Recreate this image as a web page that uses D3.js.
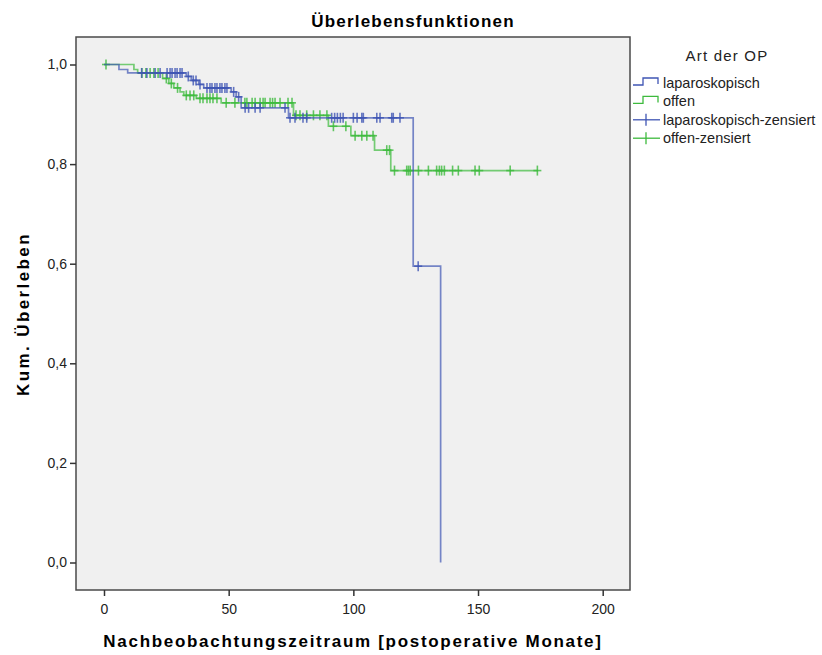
<!DOCTYPE html>
<html>
<head>
<meta charset="utf-8">
<script src="https://cdn.jsdelivr.net/npm/d3@7"></script>
<style>
  body { margin: 0; background: #fff; }
  text { font-family: "Liberation Sans", Arial, sans-serif; }
</style>
</head>
<body>
<div id="chart"></div>
<script>
// Kaplan-Meier step data (months, cumulative survival)
var lapTimes = [0, 6, 9.5, 33, 35, 38, 40, 51, 53, 55, 74, 124, 135];
var lapSurv  = [1, 0.99, 0.983, 0.976, 0.968, 0.96, 0.953, 0.945, 0.935, 0.913, 0.893, 0.595, 0];
var lapCensored = [15.1, 17.2, 20.5, 22.5, 25.3, 26.5, 27.3, 28.5, 29.3, 30.5, 31.3, 33.8, 35.8, 36.9,
  38.5, 41.3, 42.5, 43.3, 44.5, 45.3, 46.5, 47.3, 48.5, 49.3, 52, 54, 56.6, 58, 60.6, 62.6, 72.6,
  74.6, 76.6, 79.8, 81.3, 91.3, 92.5, 93.6, 94.8, 95.9, 100, 101.5, 103.4, 104, 109.4, 110.7,
  115.4, 116, 118.7, 126];

var offTimes = [0, 12, 13.5, 23.5, 26, 28, 30.5, 32, 37, 47, 76, 90, 99, 108.5, 115, 174];
var offSurv  = [1, 0.99, 0.983, 0.972, 0.962, 0.953, 0.945, 0.938, 0.932, 0.923, 0.898, 0.876, 0.857, 0.828, 0.787, 0.787];
var offCensored = [0.8, 15.2, 16.8, 18.5, 20, 21.7, 25, 27, 29.5, 33, 34.5, 36, 38.5, 39.7, 41.3, 42.5,
  43.7, 45.3, 49, 52.5, 56.5, 57.3, 59.4, 60.6, 62.6, 63.8, 64.6, 66.6, 67.6, 68.6, 70.6, 73.8, 75.4,
  77, 78.6, 81.3, 84, 86.6, 89.4, 92, 97, 100.7, 103.4, 105.4, 107.9, 113.4, 114.5, 116.5, 121.4,
  122.1, 122.8, 126.1, 130.1, 133.4, 134.5, 135.4, 136.5, 139.8, 142.1, 148.8, 150.5, 162.9, 173.8];

var xTicks = [0, 50, 100, 150, 200];
var yTicks = [0, 0.2, 0.4, 0.6, 0.8, 1.0];
var legendLabels = ["laparoskopisch", "offen", "laparoskopisch-zensiert", "offen-zensiert"];

var blue = "#3f55b4", green = "#3dba3d";

var width = 822, height = 655;
var frame = { left: 76, right: 630, top: 37, bottom: 590 };

var svg = d3.select("#chart").append("svg")
  .attr("width", width).attr("height", height);

var x = d3.scaleLinear().domain([0, 200]).range([104, 602.7]);
var y = d3.scaleLinear().domain([0, 1]).range([562.5, 64.5]);

// plot background + frame
svg.append("rect")
  .attr("x", frame.left).attr("y", frame.top)
  .attr("width", frame.right - frame.left).attr("height", frame.bottom - frame.top)
  .attr("fill", "#f0f0f0").attr("stroke", "#4a4a4a").attr("stroke-width", 1.5);

// axes
var xAxis = d3.axisBottom(x).tickValues(xTicks).tickSize(6).tickSizeOuter(0);
var yAxis = d3.axisLeft(y).tickValues(yTicks).tickSize(6).tickSizeOuter(0)
  .tickFormat(function(d) { return d3.format(".1f")(d).replace(".", ","); });

var gx = svg.append("g").attr("transform", "translate(0," + frame.bottom + ")").call(xAxis);
var gy = svg.append("g").attr("transform", "translate(" + frame.left + ",0)").call(yAxis);
[gx, gy].forEach(function(g) {
  g.select(".domain").remove();
  g.selectAll(".tick line").attr("stroke", "#333").attr("stroke-width", 1.5);
  g.selectAll(".tick text").attr("fill", "#222").style("font-size", "14px");
});
gx.selectAll(".tick text").attr("dy", "1.05em");

// step lines
function stepData(times, surv) {
  return times.map(function(t, i) { return [t, surv[i]]; });
}
var line = d3.line()
  .x(function(d) { return x(d[0]); })
  .y(function(d) { return y(d[1]); })
  .curve(d3.curveStepAfter);

function survAt(times, surv, t) {
  var i = d3.bisectRight(times, t) - 1;
  return surv[Math.max(0, i)];
}

function drawGroup(times, surv, censored, color) {
  svg.append("path")
    .attr("d", line(stepData(times, surv)))
    .attr("fill", "none").attr("stroke", color)
    .attr("stroke-width", 1.7).attr("stroke-opacity", 0.7);
  var g = svg.append("g").attr("stroke", color).attr("stroke-width", 1.6).attr("stroke-opacity", 0.8);
  censored.forEach(function(t) {
    var cx = x(t), cy = y(survAt(times, surv, t));
    g.append("line").attr("x1", cx).attr("x2", cx).attr("y1", cy - 5).attr("y2", cy + 5);
    g.append("line").attr("x1", cx - 4).attr("x2", cx + 4).attr("y1", cy).attr("y2", cy);
  });
}

drawGroup(offTimes, offSurv, offCensored, green);
drawGroup(lapTimes, lapSurv, lapCensored, blue);

// titles
svg.append("text").attr("x", 413).attr("y", 27).attr("text-anchor", "middle")
  .style("font-size", "17px").style("font-weight", "bold").style("letter-spacing", "1.2px")
  .text("Überlebensfunktionen");
svg.append("text").attr("x", 353).attr("y", 647).attr("text-anchor", "middle")
  .style("font-size", "17px").style("font-weight", "bold").style("letter-spacing", "1.7px")
  .text("Nachbeobachtungszeitraum [postoperative Monate]");
svg.append("text").attr("transform", "translate(29,314) rotate(-90)").attr("text-anchor", "middle")
  .style("font-size", "17px").style("font-weight", "bold").style("letter-spacing", "2.4px")
  .text("Kum. Überleben");

// legend
svg.append("text").attr("x", 727).attr("y", 61).attr("text-anchor", "middle")
  .style("font-size", "15px").style("letter-spacing", "1.2px").attr("fill", "#222").text("Art der OP");
var legendColors = [blue, green, blue, green];
legendLabels.forEach(function(label, i) {
  var cy = 83 + i * 18.4;
  var c = legendColors[i];
  if (i < 2) {
    svg.append("path")
      .attr("d", "M633," + (cy + 2) + "H643V" + (cy - 5) + "H658V" + (cy + 1))
      .attr("fill", "none").attr("stroke", c).attr("stroke-width", 1.3);
  } else {
    svg.append("line").attr("x1", 633).attr("x2", 660).attr("y1", cy).attr("y2", cy)
      .attr("stroke", c).attr("stroke-width", 1.3);
    svg.append("line").attr("x1", 646).attr("x2", 646).attr("y1", cy - 6).attr("y2", cy + 6)
      .attr("stroke", c).attr("stroke-width", 1.3);
  }
  svg.append("text").attr("x", 663).attr("y", cy + 5)
    .style("font-size", "14.5px").attr("fill", "#222").text(label);
});
</script>
</body>
</html>
